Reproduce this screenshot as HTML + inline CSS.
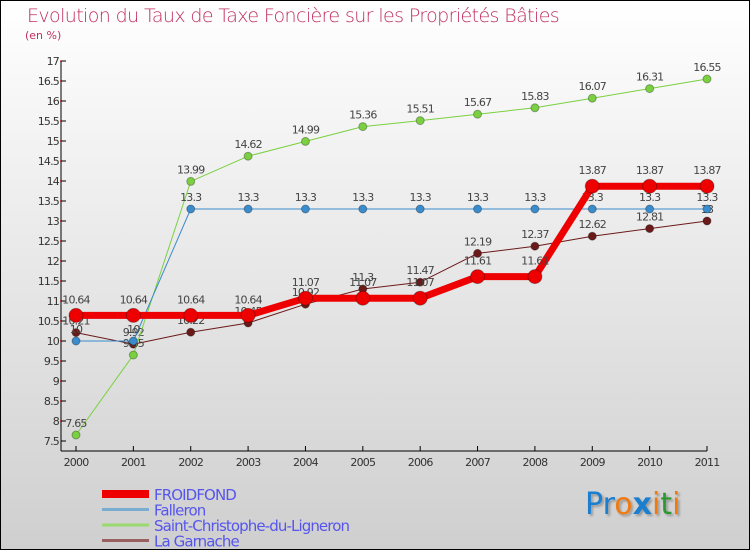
<!DOCTYPE html>
<html><head><meta charset="utf-8"><style>
body{margin:0}
#wrap{width:750px;height:550px;position:relative;overflow:hidden;font-family:"DejaVu Sans","Liberation Sans",sans-serif;background:linear-gradient(#ffffff,#cfcfcf);box-sizing:border-box;border:1px solid #000}
.t{position:absolute;color:#c0305e}
</style></head><body>
<div id="wrap">
<div class="t" style="left:26px;top:4px;font-size:19px;letter-spacing:-0.6px;font-weight:200">Evolution du Taux de Taxe Foncière sur les Propriétés Bâties</div>
<div class="t" style="left:24px;top:28px;font-size:11px;">(en %)</div>
<svg id="svg" width="750" height="550" style="position:absolute;left:0;top:0"></svg>
<div style="position:absolute;left:584px;top:486px;font-size:30px;font-family:'DejaVu Sans',sans-serif;text-shadow:2px 2px 2px #999"><span style="color:#1a7fd0">Pr</span><span style="color:#f07a10">o</span><span style="color:#1a7fd0;font-weight:bold">x</span><span style="color:#f07a10">i</span><span style="color:#2a9a30">t</span><span style="color:#f07a10">i</span></div>
</div>
<script>
const years=["2000","2001","2002","2003","2004","2005","2006","2007","2008","2009","2010","2011"];
const froidfond=[10.64,10.64,10.64,10.64,11.07,11.07,11.07,11.61,11.61,13.87,13.87,13.87];
const falleron=[10,10,13.3,13.3,13.3,13.3,13.3,13.3,13.3,13.3,13.3,13.3];
const stchristophe=[7.65,9.65,13.99,14.62,14.99,15.36,15.51,15.67,15.83,16.07,16.31,16.55];
const garnache=[10.21,9.92,10.22,10.45,10.92,11.3,11.47,12.19,12.37,12.62,12.81,13];
const yTicks=[7.5,8,8.5,9,9.5,10,10.5,11,11.5,12,12.5,13,13.5,14,14.5,15,15.5,16,16.5,17];
const seriesNames=["FROIDFOND","Falleron","Saint-Christophe-du-Ligneron","La Garnache"];
const NS="http://www.w3.org/2000/svg",svg=document.getElementById('svg');
const X=i=>75+i*(706-75)/11, Y=v=>60+(17-v)*40;
function el(t,a,p){const e=document.createElementNS(NS,t);for(const k in a)e.setAttribute(k,a[k]);(p||svg).appendChild(e);return e;}
function txt(x,y,s,a,size,col){const e=el('text',{x:x,y:y,'text-anchor':a,'font-size':size||11,fill:col||'#333','letter-spacing':'-0.8'});e.textContent=s;return e;}
// axes
let ax=el('line',{x1:60,y1:60,x2:60,y2:450,stroke:'#000'});
let bx=el('line',{x1:60,y1:450,x2:706,y2:450,stroke:'#000'});
yTicks.forEach((v,i)=>{const y=Y(v);el('line',{x1:60,y1:y,x2:65,y2:y,stroke:'#000'});
 if(i<yTicks.length-1)el('line',{x1:59,y1:y-20,x2:62,y2:y-20,stroke:'#e00'});
 const t=txt(58,y+4,String(v),'end',11);});
years.forEach((s,i)=>{el('line',{x1:X(i),y1:445,x2:X(i),y2:450,stroke:'#000'});const t=txt(X(i),465,s,'middle',11);});
function series(data,col,w,r,name,lblDy){const g=el('g',{});
 el('polyline',{points:data.map((v,i)=>X(i)+','+Y(v)).join(' '),fill:'none',stroke:col,'stroke-width':w,'stroke-linejoin':'round'},g);
 data.forEach((v,i)=>{const c=el('circle',{cx:X(i),cy:Y(v),r:r,fill:col,stroke:'rgba(0,0,0,0.3)'},g);
 txt(X(i),Y(v)-lblDy,String(v),'middle',11,'#444');});}
series(garnache,'#6b1a1a',1,4,'la-garnache-series',8);
series(stchristophe,'#7ad040',1,4,'saint-christophe-series',8);
series(falleron,'#3a8ccc',1,4,'falleron-series',8);
series(froidfond,'#ee0000',7,7,'froidfond-series',12);
// legend
const lc=['#ee0000','#7aaed0','#9ad870','#9a6060'],lw=[8,3,3,3];
seriesNames.forEach((n,i)=>{const y=493+i*15.5;const g=el('g',{});
 el('line',{x1:101,y1:y,x2:148,y2:y,stroke:lc[i],'stroke-width':lw[i]},g);
 const t=txt(153,y+6,n,'start',15,'#5555ee');g.appendChild(t);t.setAttribute('letter-spacing','-0.9');});
</script>
</body></html>
